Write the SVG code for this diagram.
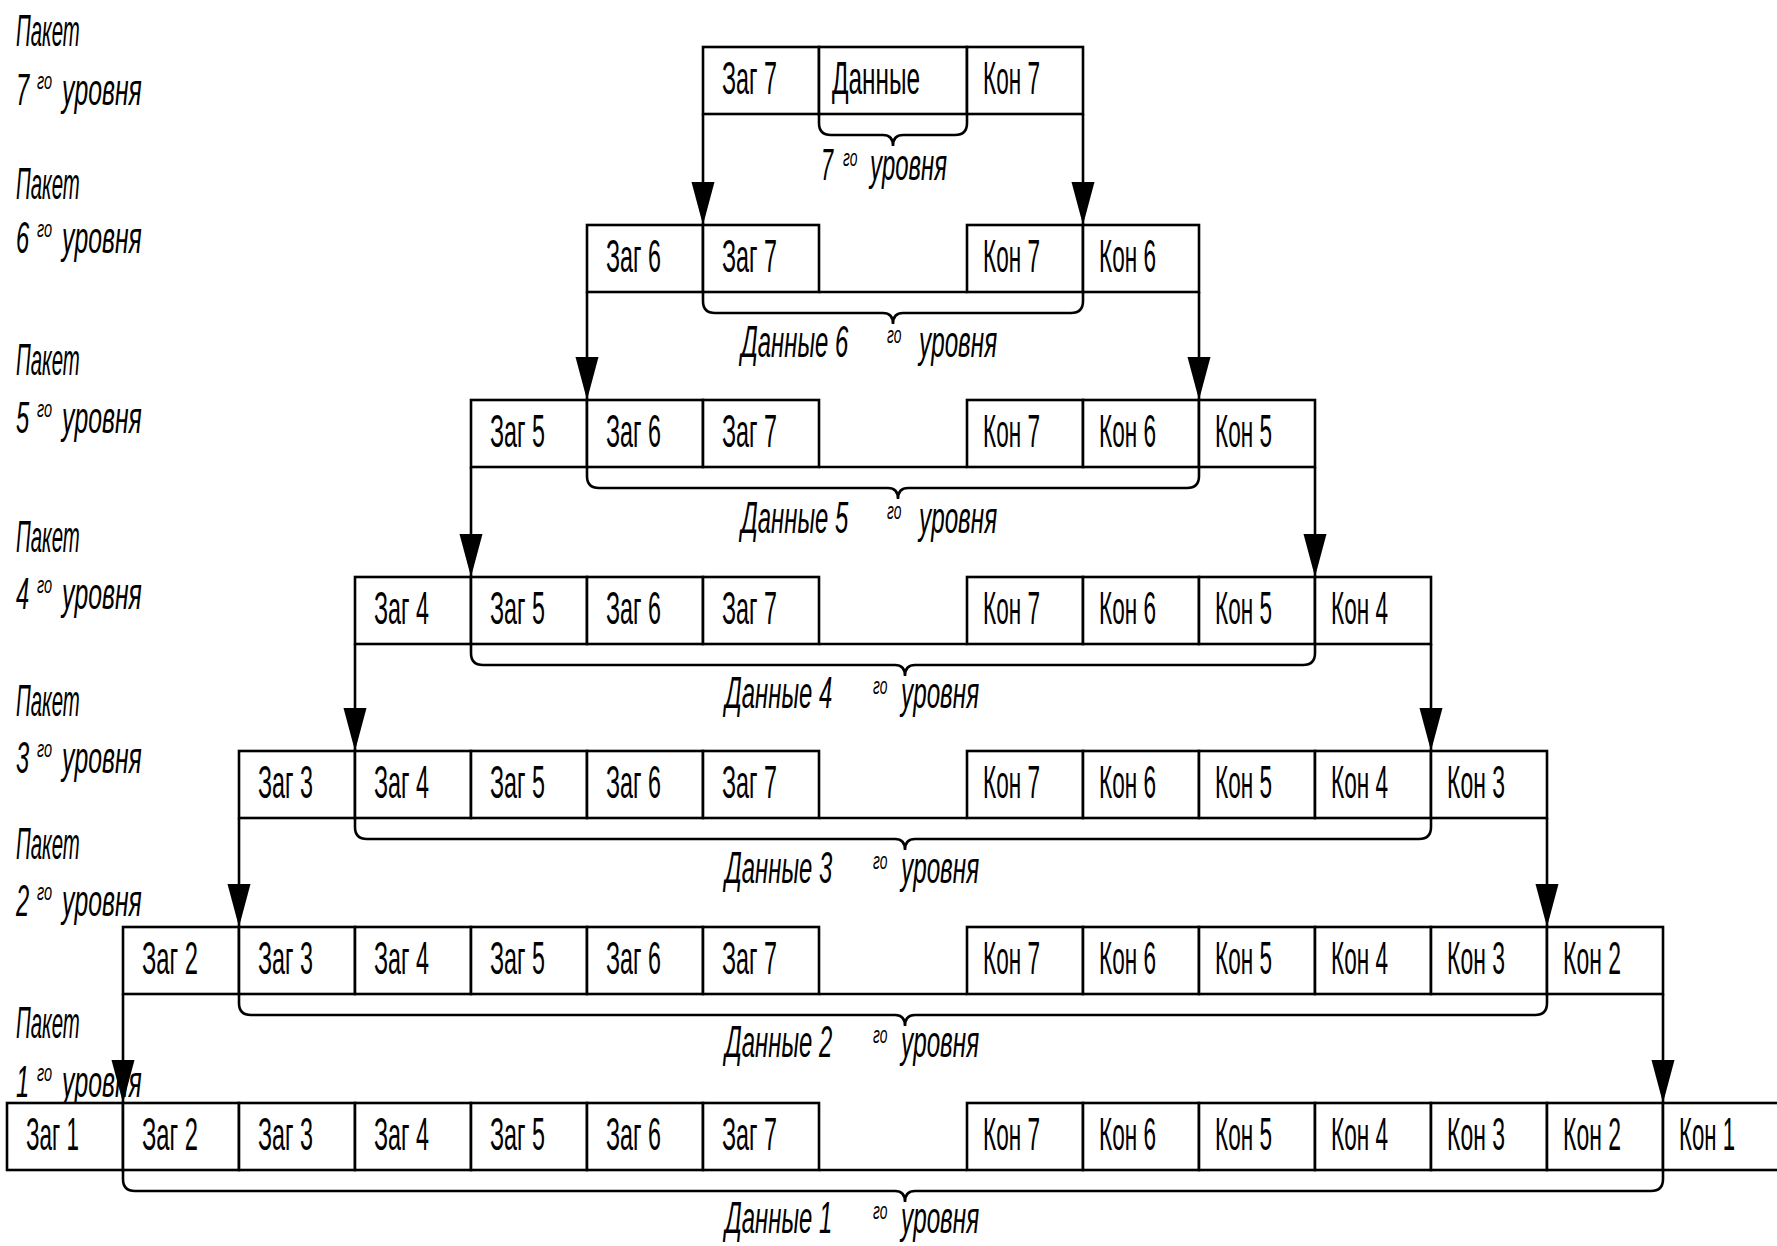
<svg xmlns="http://www.w3.org/2000/svg" width="1777" height="1246" viewBox="0 0 1777 1246">
<defs>
<style>
.c{fill:#fff;stroke:#000;stroke-width:2.6}
.ln{fill:none;stroke:#000;stroke-width:2.6}
text{font-family:"Liberation Sans",Arial,sans-serif;fill:#000}
.t{font-size:47px}
.l{font-size:44px;font-style:italic}
.s{font-size:23px;font-style:italic}
</style>
<marker id="ah" markerUnits="userSpaceOnUse" markerWidth="44" markerHeight="24" refX="43" refY="11.5" orient="auto">
<path d="M0,0 L43,11.5 L0,23 z" fill="#000"/>
</marker>
</defs>
<rect width="1777" height="1246" fill="#fff"/>

<g id="side-labels">
<g id="lab7"><text class="l" transform="translate(16,46) scale(0.55,1)" textLength="116" lengthAdjust="spacingAndGlyphs">Пакет</text><text class="l" transform="translate(16,105) scale(0.55,1)" textLength="24" lengthAdjust="spacingAndGlyphs">7</text><text class="s" transform="translate(37,89) scale(0.72,1)" textLength="21" lengthAdjust="spacingAndGlyphs">го</text><text class="l" transform="translate(62,105) scale(0.55,1)" textLength="145" lengthAdjust="spacingAndGlyphs">уровня</text></g>
<g id="lab6"><text class="l" transform="translate(16,199) scale(0.55,1)" textLength="116" lengthAdjust="spacingAndGlyphs">Пакет</text><text class="l" transform="translate(16,253) scale(0.55,1)" textLength="24" lengthAdjust="spacingAndGlyphs">6</text><text class="s" transform="translate(37,237) scale(0.72,1)" textLength="21" lengthAdjust="spacingAndGlyphs">го</text><text class="l" transform="translate(62,253) scale(0.55,1)" textLength="145" lengthAdjust="spacingAndGlyphs">уровня</text></g>
<g id="lab5"><text class="l" transform="translate(16,375) scale(0.55,1)" textLength="116" lengthAdjust="spacingAndGlyphs">Пакет</text><text class="l" transform="translate(16,433) scale(0.55,1)" textLength="24" lengthAdjust="spacingAndGlyphs">5</text><text class="s" transform="translate(37,417) scale(0.72,1)" textLength="21" lengthAdjust="spacingAndGlyphs">го</text><text class="l" transform="translate(62,433) scale(0.55,1)" textLength="145" lengthAdjust="spacingAndGlyphs">уровня</text></g>
<g id="lab4"><text class="l" transform="translate(16,552) scale(0.55,1)" textLength="116" lengthAdjust="spacingAndGlyphs">Пакет</text><text class="l" transform="translate(16,609) scale(0.55,1)" textLength="24" lengthAdjust="spacingAndGlyphs">4</text><text class="s" transform="translate(37,593) scale(0.72,1)" textLength="21" lengthAdjust="spacingAndGlyphs">го</text><text class="l" transform="translate(62,609) scale(0.55,1)" textLength="145" lengthAdjust="spacingAndGlyphs">уровня</text></g>
<g id="lab3"><text class="l" transform="translate(16,716) scale(0.55,1)" textLength="116" lengthAdjust="spacingAndGlyphs">Пакет</text><text class="l" transform="translate(16,773) scale(0.55,1)" textLength="24" lengthAdjust="spacingAndGlyphs">3</text><text class="s" transform="translate(37,757) scale(0.72,1)" textLength="21" lengthAdjust="spacingAndGlyphs">го</text><text class="l" transform="translate(62,773) scale(0.55,1)" textLength="145" lengthAdjust="spacingAndGlyphs">уровня</text></g>
<g id="lab2"><text class="l" transform="translate(16,859) scale(0.55,1)" textLength="116" lengthAdjust="spacingAndGlyphs">Пакет</text><text class="l" transform="translate(16,916) scale(0.55,1)" textLength="24" lengthAdjust="spacingAndGlyphs">2</text><text class="s" transform="translate(37,900) scale(0.72,1)" textLength="21" lengthAdjust="spacingAndGlyphs">го</text><text class="l" transform="translate(62,916) scale(0.55,1)" textLength="145" lengthAdjust="spacingAndGlyphs">уровня</text></g>
<g id="lab1"><text class="l" transform="translate(16,1038) scale(0.55,1)" textLength="116" lengthAdjust="spacingAndGlyphs">Пакет</text><text class="l" transform="translate(16,1097) scale(0.55,1)" textLength="24" lengthAdjust="spacingAndGlyphs">1</text><text class="s" transform="translate(37,1081) scale(0.72,1)" textLength="21" lengthAdjust="spacingAndGlyphs">го</text><text class="l" transform="translate(62,1097) scale(0.55,1)" textLength="145" lengthAdjust="spacingAndGlyphs">уровня</text></g>
</g>

<g id="packet7">
<g id="p7-zag7"><rect class="c" x="703" y="47" width="116" height="67"/><text class="t" transform="translate(722,94) scale(0.5,1)" textLength="110" lengthAdjust="spacingAndGlyphs">Заг 7</text></g>
<g id="p7-data"><rect class="c" x="819" y="47" width="148" height="67"/><text class="t" transform="translate(832,94) scale(0.5,1)" textLength="176" lengthAdjust="spacingAndGlyphs">Данные</text></g>
<g id="p7-kon7"><rect class="c" x="967" y="47" width="116" height="67"/><text class="t" transform="translate(983,94) scale(0.5,1)" textLength="114" lengthAdjust="spacingAndGlyphs">Кон 7</text></g>
</g>

<g id="packet6">
<line class="ln" x1="819" y1="292" x2="967" y2="292"/>
<g id="p6-zag6"><rect class="c" x="587" y="225" width="116" height="67"/><text class="t" transform="translate(606,272) scale(0.5,1)" textLength="110" lengthAdjust="spacingAndGlyphs">Заг 6</text></g>
<g id="p6-zag7"><rect class="c" x="703" y="225" width="116" height="67"/><text class="t" transform="translate(722,272) scale(0.5,1)" textLength="110" lengthAdjust="spacingAndGlyphs">Заг 7</text></g>
<g id="p6-kon7"><rect class="c" x="967" y="225" width="116" height="67"/><text class="t" transform="translate(983,272) scale(0.5,1)" textLength="114" lengthAdjust="spacingAndGlyphs">Кон 7</text></g>
<g id="p6-kon6"><rect class="c" x="1083" y="225" width="116" height="67"/><text class="t" transform="translate(1099,272) scale(0.5,1)" textLength="114" lengthAdjust="spacingAndGlyphs">Кон 6</text></g>
</g>

<g id="packet5">
<line class="ln" x1="819" y1="467" x2="967" y2="467"/>
<g id="p5-zag5"><rect class="c" x="471" y="400" width="116" height="67"/><text class="t" transform="translate(490,447) scale(0.5,1)" textLength="110" lengthAdjust="spacingAndGlyphs">Заг 5</text></g>
<g id="p5-zag6"><rect class="c" x="587" y="400" width="116" height="67"/><text class="t" transform="translate(606,447) scale(0.5,1)" textLength="110" lengthAdjust="spacingAndGlyphs">Заг 6</text></g>
<g id="p5-zag7"><rect class="c" x="703" y="400" width="116" height="67"/><text class="t" transform="translate(722,447) scale(0.5,1)" textLength="110" lengthAdjust="spacingAndGlyphs">Заг 7</text></g>
<g id="p5-kon7"><rect class="c" x="967" y="400" width="116" height="67"/><text class="t" transform="translate(983,447) scale(0.5,1)" textLength="114" lengthAdjust="spacingAndGlyphs">Кон 7</text></g>
<g id="p5-kon6"><rect class="c" x="1083" y="400" width="116" height="67"/><text class="t" transform="translate(1099,447) scale(0.5,1)" textLength="114" lengthAdjust="spacingAndGlyphs">Кон 6</text></g>
<g id="p5-kon5"><rect class="c" x="1199" y="400" width="116" height="67"/><text class="t" transform="translate(1215,447) scale(0.5,1)" textLength="114" lengthAdjust="spacingAndGlyphs">Кон 5</text></g>
</g>

<g id="packet4">
<line class="ln" x1="819" y1="644" x2="967" y2="644"/>
<g id="p4-zag4"><rect class="c" x="355" y="577" width="116" height="67"/><text class="t" transform="translate(374,624) scale(0.5,1)" textLength="110" lengthAdjust="spacingAndGlyphs">Заг 4</text></g>
<g id="p4-zag5"><rect class="c" x="471" y="577" width="116" height="67"/><text class="t" transform="translate(490,624) scale(0.5,1)" textLength="110" lengthAdjust="spacingAndGlyphs">Заг 5</text></g>
<g id="p4-zag6"><rect class="c" x="587" y="577" width="116" height="67"/><text class="t" transform="translate(606,624) scale(0.5,1)" textLength="110" lengthAdjust="spacingAndGlyphs">Заг 6</text></g>
<g id="p4-zag7"><rect class="c" x="703" y="577" width="116" height="67"/><text class="t" transform="translate(722,624) scale(0.5,1)" textLength="110" lengthAdjust="spacingAndGlyphs">Заг 7</text></g>
<g id="p4-kon7"><rect class="c" x="967" y="577" width="116" height="67"/><text class="t" transform="translate(983,624) scale(0.5,1)" textLength="114" lengthAdjust="spacingAndGlyphs">Кон 7</text></g>
<g id="p4-kon6"><rect class="c" x="1083" y="577" width="116" height="67"/><text class="t" transform="translate(1099,624) scale(0.5,1)" textLength="114" lengthAdjust="spacingAndGlyphs">Кон 6</text></g>
<g id="p4-kon5"><rect class="c" x="1199" y="577" width="116" height="67"/><text class="t" transform="translate(1215,624) scale(0.5,1)" textLength="114" lengthAdjust="spacingAndGlyphs">Кон 5</text></g>
<g id="p4-kon4"><rect class="c" x="1315" y="577" width="116" height="67"/><text class="t" transform="translate(1331,624) scale(0.5,1)" textLength="114" lengthAdjust="spacingAndGlyphs">Кон 4</text></g>
</g>

<g id="packet3">
<line class="ln" x1="819" y1="818" x2="967" y2="818"/>
<g id="p3-zag3"><rect class="c" x="239" y="751" width="116" height="67"/><text class="t" transform="translate(258,798) scale(0.5,1)" textLength="110" lengthAdjust="spacingAndGlyphs">Заг 3</text></g>
<g id="p3-zag4"><rect class="c" x="355" y="751" width="116" height="67"/><text class="t" transform="translate(374,798) scale(0.5,1)" textLength="110" lengthAdjust="spacingAndGlyphs">Заг 4</text></g>
<g id="p3-zag5"><rect class="c" x="471" y="751" width="116" height="67"/><text class="t" transform="translate(490,798) scale(0.5,1)" textLength="110" lengthAdjust="spacingAndGlyphs">Заг 5</text></g>
<g id="p3-zag6"><rect class="c" x="587" y="751" width="116" height="67"/><text class="t" transform="translate(606,798) scale(0.5,1)" textLength="110" lengthAdjust="spacingAndGlyphs">Заг 6</text></g>
<g id="p3-zag7"><rect class="c" x="703" y="751" width="116" height="67"/><text class="t" transform="translate(722,798) scale(0.5,1)" textLength="110" lengthAdjust="spacingAndGlyphs">Заг 7</text></g>
<g id="p3-kon7"><rect class="c" x="967" y="751" width="116" height="67"/><text class="t" transform="translate(983,798) scale(0.5,1)" textLength="114" lengthAdjust="spacingAndGlyphs">Кон 7</text></g>
<g id="p3-kon6"><rect class="c" x="1083" y="751" width="116" height="67"/><text class="t" transform="translate(1099,798) scale(0.5,1)" textLength="114" lengthAdjust="spacingAndGlyphs">Кон 6</text></g>
<g id="p3-kon5"><rect class="c" x="1199" y="751" width="116" height="67"/><text class="t" transform="translate(1215,798) scale(0.5,1)" textLength="114" lengthAdjust="spacingAndGlyphs">Кон 5</text></g>
<g id="p3-kon4"><rect class="c" x="1315" y="751" width="116" height="67"/><text class="t" transform="translate(1331,798) scale(0.5,1)" textLength="114" lengthAdjust="spacingAndGlyphs">Кон 4</text></g>
<g id="p3-kon3"><rect class="c" x="1431" y="751" width="116" height="67"/><text class="t" transform="translate(1447,798) scale(0.5,1)" textLength="116" lengthAdjust="spacingAndGlyphs">Кон 3</text></g>
</g>

<g id="packet2">
<line class="ln" x1="819" y1="994" x2="967" y2="994"/>
<g id="p2-zag2"><rect class="c" x="123" y="927" width="116" height="67"/><text class="t" transform="translate(142,974) scale(0.5,1)" textLength="112" lengthAdjust="spacingAndGlyphs">Заг 2</text></g>
<g id="p2-zag3"><rect class="c" x="239" y="927" width="116" height="67"/><text class="t" transform="translate(258,974) scale(0.5,1)" textLength="110" lengthAdjust="spacingAndGlyphs">Заг 3</text></g>
<g id="p2-zag4"><rect class="c" x="355" y="927" width="116" height="67"/><text class="t" transform="translate(374,974) scale(0.5,1)" textLength="110" lengthAdjust="spacingAndGlyphs">Заг 4</text></g>
<g id="p2-zag5"><rect class="c" x="471" y="927" width="116" height="67"/><text class="t" transform="translate(490,974) scale(0.5,1)" textLength="110" lengthAdjust="spacingAndGlyphs">Заг 5</text></g>
<g id="p2-zag6"><rect class="c" x="587" y="927" width="116" height="67"/><text class="t" transform="translate(606,974) scale(0.5,1)" textLength="110" lengthAdjust="spacingAndGlyphs">Заг 6</text></g>
<g id="p2-zag7"><rect class="c" x="703" y="927" width="116" height="67"/><text class="t" transform="translate(722,974) scale(0.5,1)" textLength="110" lengthAdjust="spacingAndGlyphs">Заг 7</text></g>
<g id="p2-kon7"><rect class="c" x="967" y="927" width="116" height="67"/><text class="t" transform="translate(983,974) scale(0.5,1)" textLength="114" lengthAdjust="spacingAndGlyphs">Кон 7</text></g>
<g id="p2-kon6"><rect class="c" x="1083" y="927" width="116" height="67"/><text class="t" transform="translate(1099,974) scale(0.5,1)" textLength="114" lengthAdjust="spacingAndGlyphs">Кон 6</text></g>
<g id="p2-kon5"><rect class="c" x="1199" y="927" width="116" height="67"/><text class="t" transform="translate(1215,974) scale(0.5,1)" textLength="114" lengthAdjust="spacingAndGlyphs">Кон 5</text></g>
<g id="p2-kon4"><rect class="c" x="1315" y="927" width="116" height="67"/><text class="t" transform="translate(1331,974) scale(0.5,1)" textLength="114" lengthAdjust="spacingAndGlyphs">Кон 4</text></g>
<g id="p2-kon3"><rect class="c" x="1431" y="927" width="116" height="67"/><text class="t" transform="translate(1447,974) scale(0.5,1)" textLength="116" lengthAdjust="spacingAndGlyphs">Кон 3</text></g>
<g id="p2-kon2"><rect class="c" x="1547" y="927" width="116" height="67"/><text class="t" transform="translate(1563,974) scale(0.5,1)" textLength="116" lengthAdjust="spacingAndGlyphs">Кон 2</text></g>
</g>

<g id="packet1">
<line class="ln" x1="819" y1="1170" x2="967" y2="1170"/>
<g id="p1-zag1"><rect class="c" x="7" y="1103" width="116" height="67"/><text class="t" transform="translate(26,1150) scale(0.5,1)" textLength="106" lengthAdjust="spacingAndGlyphs">Заг 1</text></g>
<g id="p1-zag2"><rect class="c" x="123" y="1103" width="116" height="67"/><text class="t" transform="translate(142,1150) scale(0.5,1)" textLength="112" lengthAdjust="spacingAndGlyphs">Заг 2</text></g>
<g id="p1-zag3"><rect class="c" x="239" y="1103" width="116" height="67"/><text class="t" transform="translate(258,1150) scale(0.5,1)" textLength="110" lengthAdjust="spacingAndGlyphs">Заг 3</text></g>
<g id="p1-zag4"><rect class="c" x="355" y="1103" width="116" height="67"/><text class="t" transform="translate(374,1150) scale(0.5,1)" textLength="110" lengthAdjust="spacingAndGlyphs">Заг 4</text></g>
<g id="p1-zag5"><rect class="c" x="471" y="1103" width="116" height="67"/><text class="t" transform="translate(490,1150) scale(0.5,1)" textLength="110" lengthAdjust="spacingAndGlyphs">Заг 5</text></g>
<g id="p1-zag6"><rect class="c" x="587" y="1103" width="116" height="67"/><text class="t" transform="translate(606,1150) scale(0.5,1)" textLength="110" lengthAdjust="spacingAndGlyphs">Заг 6</text></g>
<g id="p1-zag7"><rect class="c" x="703" y="1103" width="116" height="67"/><text class="t" transform="translate(722,1150) scale(0.5,1)" textLength="110" lengthAdjust="spacingAndGlyphs">Заг 7</text></g>
<g id="p1-kon7"><rect class="c" x="967" y="1103" width="116" height="67"/><text class="t" transform="translate(983,1150) scale(0.5,1)" textLength="114" lengthAdjust="spacingAndGlyphs">Кон 7</text></g>
<g id="p1-kon6"><rect class="c" x="1083" y="1103" width="116" height="67"/><text class="t" transform="translate(1099,1150) scale(0.5,1)" textLength="114" lengthAdjust="spacingAndGlyphs">Кон 6</text></g>
<g id="p1-kon5"><rect class="c" x="1199" y="1103" width="116" height="67"/><text class="t" transform="translate(1215,1150) scale(0.5,1)" textLength="114" lengthAdjust="spacingAndGlyphs">Кон 5</text></g>
<g id="p1-kon4"><rect class="c" x="1315" y="1103" width="116" height="67"/><text class="t" transform="translate(1331,1150) scale(0.5,1)" textLength="114" lengthAdjust="spacingAndGlyphs">Кон 4</text></g>
<g id="p1-kon3"><rect class="c" x="1431" y="1103" width="116" height="67"/><text class="t" transform="translate(1447,1150) scale(0.5,1)" textLength="116" lengthAdjust="spacingAndGlyphs">Кон 3</text></g>
<g id="p1-kon2"><rect class="c" x="1547" y="1103" width="116" height="67"/><text class="t" transform="translate(1563,1150) scale(0.5,1)" textLength="116" lengthAdjust="spacingAndGlyphs">Кон 2</text></g>
<g id="p1-kon1"><rect class="c" x="1663" y="1103" width="116" height="67"/><text class="t" transform="translate(1679,1150) scale(0.5,1)" textLength="112" lengthAdjust="spacingAndGlyphs">Кон 1</text></g>
</g>

<g id="braces">
<path class="ln" d="M819,114 V123 Q819,135 831,135 H883 Q893,135 893,146 Q893,135 903,135 H955 Q967,135 967,123 V114"/>
<path class="ln" d="M703,292 V301 Q703,313 715,313 H883 Q893,313 893,324 Q893,313 903,313 H1071 Q1083,313 1083,301 V292"/>
<path class="ln" d="M587,467 V476 Q587,488 599,488 H888 Q898,488 898,499 Q898,488 908,488 H1187 Q1199,488 1199,476 V467"/>
<path class="ln" d="M471,644 V653 Q471,665 483,665 H895 Q905,665 905,676 Q905,665 915,665 H1303 Q1315,665 1315,653 V644"/>
<path class="ln" d="M355,818 V827 Q355,839 367,839 H895 Q905,839 905,850 Q905,839 915,839 H1419 Q1431,839 1431,827 V818"/>
<path class="ln" d="M239,994 V1003 Q239,1015 251,1015 H895 Q905,1015 905,1026 Q905,1015 915,1015 H1535 Q1547,1015 1547,1003 V994"/>
<path class="ln" d="M123,1170 V1179 Q123,1191 135,1191 H895 Q905,1191 905,1202 Q905,1191 915,1191 H1651 Q1663,1191 1663,1179 V1170"/>
</g>

<g id="brace-labels">
<g id="bl7"><text class="l" transform="translate(821,180) scale(0.55,1)" textLength="22" lengthAdjust="spacingAndGlyphs">7</text><text class="s" transform="translate(843,166) scale(0.72,1)" textLength="20" lengthAdjust="spacingAndGlyphs">го</text><text class="l" transform="translate(870,180) scale(0.55,1)" textLength="140" lengthAdjust="spacingAndGlyphs">уровня</text></g>
<g id="bl6"><text class="l" transform="translate(741,357) scale(0.55,1)" textLength="195" lengthAdjust="spacingAndGlyphs">Данные 6</text><text class="s" transform="translate(887,343) scale(0.72,1)" textLength="20" lengthAdjust="spacingAndGlyphs">го</text><text class="l" transform="translate(919,357) scale(0.55,1)" textLength="142" lengthAdjust="spacingAndGlyphs">уровня</text></g>
<g id="bl5"><text class="l" transform="translate(741,533) scale(0.55,1)" textLength="195" lengthAdjust="spacingAndGlyphs">Данные 5</text><text class="s" transform="translate(887,519) scale(0.72,1)" textLength="20" lengthAdjust="spacingAndGlyphs">го</text><text class="l" transform="translate(919,533) scale(0.55,1)" textLength="142" lengthAdjust="spacingAndGlyphs">уровня</text></g>
<g id="bl4"><text class="l" transform="translate(725,708) scale(0.55,1)" textLength="195" lengthAdjust="spacingAndGlyphs">Данные 4</text><text class="s" transform="translate(873,694) scale(0.72,1)" textLength="20" lengthAdjust="spacingAndGlyphs">го</text><text class="l" transform="translate(901,708) scale(0.55,1)" textLength="142" lengthAdjust="spacingAndGlyphs">уровня</text></g>
<g id="bl3"><text class="l" transform="translate(725,883) scale(0.55,1)" textLength="195" lengthAdjust="spacingAndGlyphs">Данные 3</text><text class="s" transform="translate(873,869) scale(0.72,1)" textLength="20" lengthAdjust="spacingAndGlyphs">го</text><text class="l" transform="translate(901,883) scale(0.55,1)" textLength="142" lengthAdjust="spacingAndGlyphs">уровня</text></g>
<g id="bl2"><text class="l" transform="translate(725,1057) scale(0.55,1)" textLength="195" lengthAdjust="spacingAndGlyphs">Данные 2</text><text class="s" transform="translate(873,1043) scale(0.72,1)" textLength="20" lengthAdjust="spacingAndGlyphs">го</text><text class="l" transform="translate(901,1057) scale(0.55,1)" textLength="142" lengthAdjust="spacingAndGlyphs">уровня</text></g>
<g id="bl1"><text class="l" transform="translate(725,1233) scale(0.55,1)" textLength="195" lengthAdjust="spacingAndGlyphs">Данные 1</text><text class="s" transform="translate(873,1219) scale(0.72,1)" textLength="20" lengthAdjust="spacingAndGlyphs">го</text><text class="l" transform="translate(901,1233) scale(0.55,1)" textLength="142" lengthAdjust="spacingAndGlyphs">уровня</text></g>
</g>

<g id="connectors">
<line class="ln" x1="703" y1="114" x2="703" y2="225" marker-end="url(#ah)"/>
<line class="ln" x1="1083" y1="114" x2="1083" y2="225" marker-end="url(#ah)"/>
<line class="ln" x1="587" y1="292" x2="587" y2="400" marker-end="url(#ah)"/>
<line class="ln" x1="1199" y1="292" x2="1199" y2="400" marker-end="url(#ah)"/>
<line class="ln" x1="471" y1="467" x2="471" y2="577" marker-end="url(#ah)"/>
<line class="ln" x1="1315" y1="467" x2="1315" y2="577" marker-end="url(#ah)"/>
<line class="ln" x1="355" y1="644" x2="355" y2="751" marker-end="url(#ah)"/>
<line class="ln" x1="1431" y1="644" x2="1431" y2="751" marker-end="url(#ah)"/>
<line class="ln" x1="239" y1="818" x2="239" y2="927" marker-end="url(#ah)"/>
<line class="ln" x1="1547" y1="818" x2="1547" y2="927" marker-end="url(#ah)"/>
<line class="ln" x1="123" y1="994" x2="123" y2="1103" marker-end="url(#ah)"/>
<line class="ln" x1="1663" y1="994" x2="1663" y2="1103" marker-end="url(#ah)"/>
</g>
</svg>
